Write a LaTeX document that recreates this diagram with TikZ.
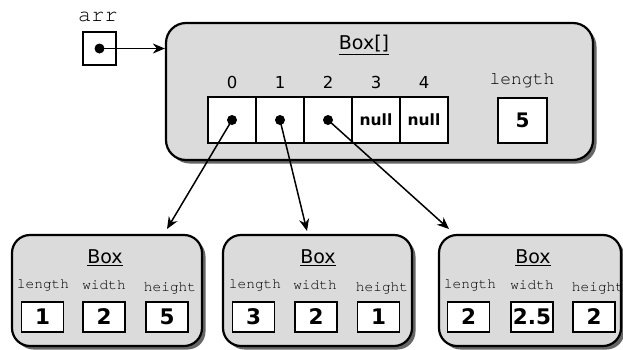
\documentclass[tikz,border=0pt]{standalone}
\usepackage{fontspec}
\setmainfont{DejaVu Sans}
\setmonofont{TeX Gyre Cursor}
\usetikzlibrary{arrows.meta,shadows}

\begin{document}
\begin{tikzpicture}[x=1pt,y=-1pt,
  obj/.style={draw, line width=2.2pt, rounded corners=20pt, fill=black!14,
    drop shadow={shadow xshift=3.5pt,shadow yshift=-3.5pt,fill=black!60,opacity=1},
    inner sep=0pt},
  cell/.style={draw, line width=1.3pt, fill=white, minimum width=48pt,
    minimum height=46pt, inner sep=0pt, font=\fontsize{15.5}{16}\selectfont\bfseries},
  valbox/.style={draw, line width=1.9pt, fill=white, minimum width=42pt,
    minimum height=30pt, inner sep=0pt, font=\fontsize{21.5}{22}\selectfont\bfseries},
  field/.style={font=\ttfamily\fontsize{14.5}{15}\selectfont, inner sep=0pt},
  title/.style={font=\fontsize{19}{20}\selectfont, inner sep=0pt},
  idx/.style={font=\fontsize{16.5}{17}\selectfont, inner sep=0pt},
  dot/.style={circle, fill=black, inner sep=0pt, minimum size=10pt},
  ptr/.style={-{Stealth[length=12pt,width=10pt]}, line width=1.5pt},
]
\useasboundingbox (0,0) rectangle (623,349);

% variable arr
\node[font=\ttfamily\fontsize{22}{22}\selectfont, inner sep=0pt] (arrlbl) at (98,17) {arr};
\node[draw, line width=1.4pt, fill=white, minimum size=33pt, inner sep=0pt] (arr) at (99.5,48.5) {};
\node[dot] (arrdot) at (arr.center) {};

% the array object
\node[obj, minimum width=427pt, minimum height=137pt] (array) at (379.5,91.5) {};
\node[title] (arrtitle) at (364,45) {\underline{Box[]}};
\foreach \i/\x in {0/232,1/280,2/328,3/376,4/424}{
  \node[idx] (i\i) at (\x,82) {\i};
}
\node[cell] (c0) at (232,120) {};
\node[cell] (c1) at (280,120) {};
\node[cell] (c2) at (328,120) {};
\node[cell] (c3) at (376,120) {null};
\node[cell] (c4) at (424,120) {null};
\node[dot] (d0) at (c0.center) {};
\node[dot] (d1) at (c1.center) {};
\node[dot] (d2) at (c2.center) {};
\node[field, font=\ttfamily\fontsize{18}{18}\selectfont] (alen) at (522,81) {length};
\node[valbox, minimum width=49pt, minimum height=45pt, font=\fontsize{20}{20}\selectfont\bfseries] (alenv) at (522.5,120.5) {5};

\draw[ptr] (arrdot.center) -- (array.west |- arrdot.center);

% Box objects
\node[obj, rounded corners=18pt, minimum width=190pt, minimum height=111pt] (b1) at (107,290.5) {};
\node[obj, rounded corners=18pt, minimum width=189pt, minimum height=111pt] (b2) at (317.5,290.5) {};
\node[obj, rounded corners=18pt, minimum width=182pt, minimum height=111pt] (b3) at (530,290.5) {};

\node[title] (t1) at (105,258) {\underline{Box}};
\node[title] (t2) at (318,258) {\underline{Box}};
\node[title] (t3) at (533,258) {\underline{Box}};

\node[field] (l1) at (43,285) {length};
\node[field] (w1) at (104,285) {width};
\node[field] (h1) at (170,288) {height};
\node[field] (l2) at (255,285) {length};
\node[field] (w2) at (315,285) {width};
\node[field] (h2) at (382,288) {height};
\node[field] (l3) at (470,285) {length};
\node[field] (w3) at (532,285) {width};
\node[field] (h3) at (598,288) {height};

\node[valbox] (v1l) at (42.5,317) {1};
\node[valbox] (v1w) at (104,317) {2};
\node[valbox] (v1h) at (167,317) {5};
\node[valbox] (v2l) at (253.5,317) {3};
\node[valbox] (v2w) at (316,317) {2};
\node[valbox] (v2h) at (378.5,317) {1};
\node[valbox] (v3l) at (468.5,317) {2};
\node[valbox] (v3w) at (532,317) {2.5};
\node[valbox] (v3h) at (594,317) {2};

% references from the array cells
\coordinate (e1) at (167,229);
\coordinate (e2) at (307,231);
\coordinate (e3) at (449,229);
\draw[ptr] (d0.center) -- (e1);
\draw[ptr] (d1.center) -- (e2);
\draw[ptr] (d2.center) -- (e3);
\end{tikzpicture}
\end{document}
